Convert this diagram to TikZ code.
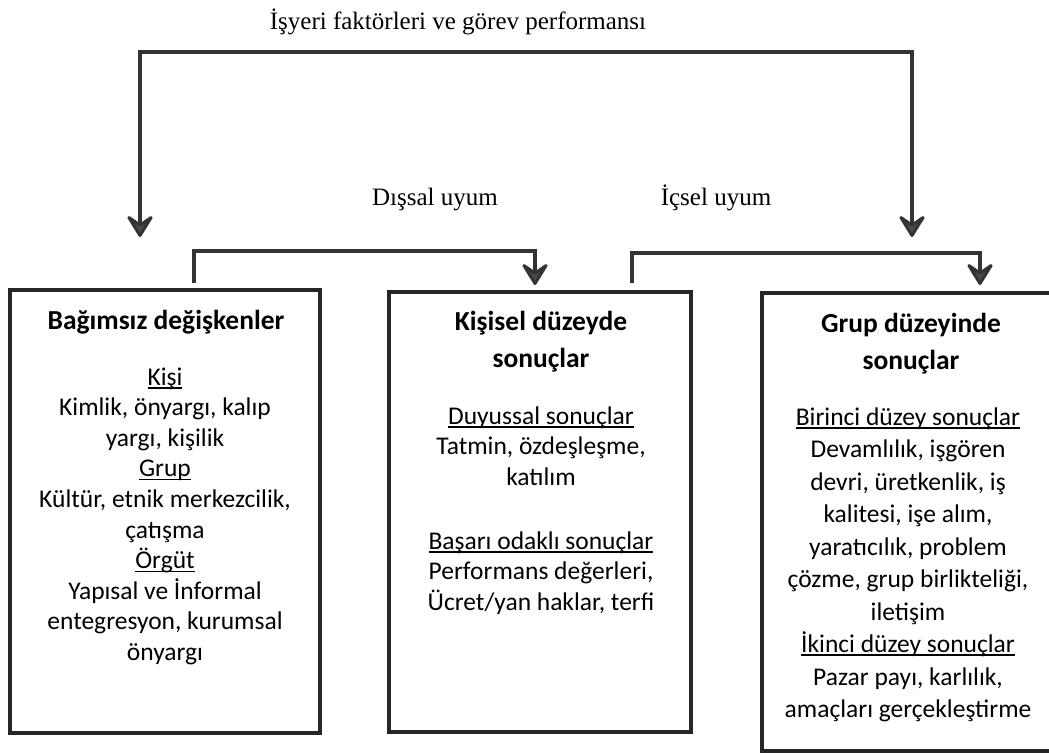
\documentclass[tikz,border=0pt]{standalone}
\usepackage{fontspec}
\setmainfont{Liberation Serif}
\newfontfamily\boxfont{Carlito}
\usetikzlibrary{arrows.meta}

% underline drawn at a fixed depth, crossing descenders
\newcommand\ulbar[1]{\leavevmode\setbox0\hbox{#1}\rlap{\raisebox{-3.6pt}{\rule{\wd0}{1.7pt}}}\box0}

\tikzset{
  headtip/.tip={Stealth[length=26pt 0 0, width=32pt 0, inset=11pt 0, round, line width=3pt, fill=black!70]},
  frame/.style={draw=black!85, line width=4pt, inner sep=0pt},
  conn/.style={draw=black!80, line width=4.5pt, line join=miter, -headtip},
  toplabel/.style={font=\fontsize{25}{30}\selectfont, inner sep=0pt, anchor=base},
  titletext/.style={inner sep=0pt, anchor=base, font=\boxfont\bfseries\fontsize{27.5}{37}\selectfont},
  bodytext/.style={inner sep=0pt, anchor=base, font=\boxfont\fontsize{25.5}{30.6}\selectfont},
}

\begin{document}
\begin{tikzpicture}[x=1pt, y=1pt]
\useasboundingbox (0,0) rectangle (1049,-754);
\clip (0,0) rectangle (1049,-754);

% labels
\node[toplabel] (workplace) at (458,-30) {İşyeri faktörleri ve görev performansı};
\node[toplabel] (external) at (435,-206) {Dışsal uyum};
\node[toplabel] (internal) at (716,-206) {İçsel uyum};

% the three boxes
\node[frame, minimum width=310.5pt, minimum height=443pt] (indep) at (165,-511.5) {};
\node[frame, minimum width=302pt, minimum height=440pt] (personal) at (540,-512) {};
\node[frame, minimum width=298pt, minimum height=458pt] (group) at (911,-522) {};

% box contents
\node[titletext] (indepTitle) at (166,-329) {Bağımsız değişkenler};
\node[bodytext] (indepBody) at (165,-385) {\begin{minipage}[t]{310pt}\centering
\ulbar{Kişi}\\
Kimlik, önyargı, kalıp\\
yargı, kişilik\\
\ulbar{Grup}\\
Kültür, etnik merkezcilik,\\
çatışma\\
\ulbar{Örgüt}\\
Yapısal ve İnformal\\
entegresyon, kurumsal\\
önyargı
\end{minipage}};

\node[titletext] (personalTitle) at (541,-330) {\begin{minipage}[t]{300pt}\centering
Kişisel düzeyde\\ sonuçlar\end{minipage}};
\node[bodytext] (personalBody) at (541,-424) {\begin{minipage}[t]{300pt}\centering
\ulbar{Duyussal sonuçlar}\\
Tatmin, özdeşleşme,\\
katılım\\[33.5pt]
\ulbar{Başarı odaklı sonuçlar}\\
Performans değerleri,\\
Ücret/yan haklar, terfi
\end{minipage}};

\node[titletext] (groupTitle) at (911,-332) {\begin{minipage}[t]{300pt}\centering
Grup düzeyinde\\ sonuçlar\end{minipage}};
\node[bodytext, font=\boxfont\fontsize{25.5}{32.5}\selectfont] (groupBody) at (908,-425) {\begin{minipage}[t]{300pt}\centering
\ulbar{Birinci düzey sonuçlar}\\
Devamlılık, işgören\\
devri, üretkenlik, iş\\
kalitesi, işe alım,\\
yaratıcılık, problem\\
çözme, grup birlikteliği,\\
iletişim\\
\ulbar{İkinci düzey sonuçlar}\\
Pazar payı, karlılık,\\
amaçları gerçekleştirme
\end{minipage}};

% connector end points
\coordinate (leftTip) at (140,-237);
\coordinate (rightTip) at (912,-237);
\coordinate (topBar) at (526,-52);
\coordinate (extStart) at ([xshift=29pt, yshift=5pt]indep.north);
\coordinate (extEnd) at ([xshift=-5pt, yshift=5pt]personal.north);
\coordinate (extBar) at (360,-251);
\coordinate (intStart) at ([xshift=92pt, yshift=7pt]personal.north);
\coordinate (intEnd) at ([xshift=69pt, yshift=6pt]group.north);
\coordinate (intBar) at (800,-253);

% workplace factors branch to both sides
\draw[conn, headtip-headtip] (leftTip) |- (topBar) -| (rightTip);

% external fit
\draw[conn] (extStart) |- (extBar) -| (extEnd);

% internal fit
\draw[conn] (intStart) |- (intBar) -| (intEnd);
\end{tikzpicture}
\end{document}
